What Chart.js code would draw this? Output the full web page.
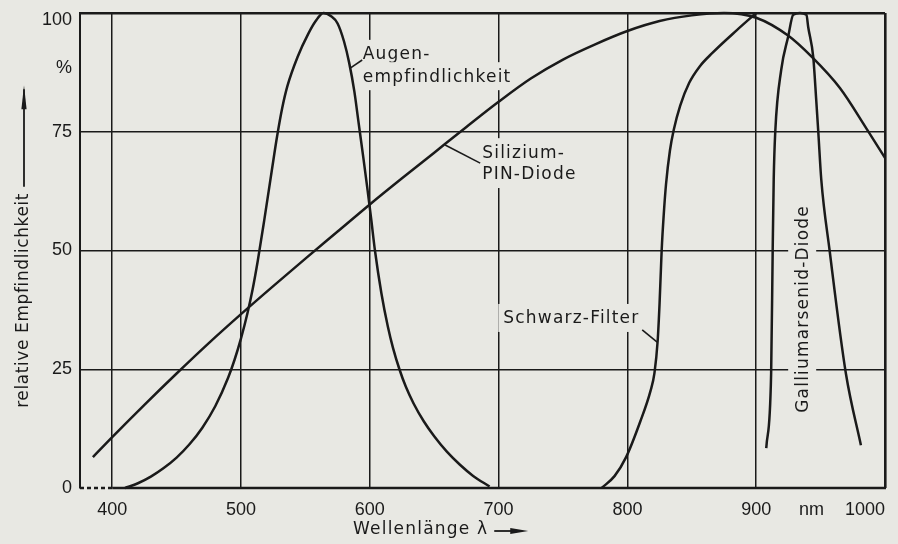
<!DOCTYPE html>
<html>
<head>
<meta charset="utf-8">
<script src="https://cdn.jsdelivr.net/npm/chart.js@4.4.1/dist/chart.umd.min.js"></script>
<style>
  html, body { margin: 0; padding: 0; background: #e8e8e3; }
  #wrap { width: 898px; height: 544px; }
  canvas { display: block; }
</style>
</head>
<body>
<div id="wrap"><canvas id="c" width="898" height="544"></canvas></div>
<script>
// ---- tick values / labels ----
const xTickValues = [375, 400, 500, 600, 700, 800, 900, 943, 1000];
const xTickLabels = ['', '400', '500', '600', '700', '800', '900', 'nm', '1000'];
const yTickValues = [0, 25, 50, 75, 88.5, 100];
const yTickLabels = ['0', '25', '50', '75', '%', '100'];

// ---- series (wavelength in nm, relative sensitivity in %) ----
const augeNm  = [410, 420, 430, 440, 450, 460, 470, 480, 490, 495, 500, 505, 509, 513, 518, 524, 528, 532, 536, 544, 552, 558, 564, 570, 575, 580, 584, 588, 591, 595, 598, 601, 604, 609, 614, 618, 623, 628, 634, 642, 650, 660, 670, 680, 693];
const augeRel = [0, 1, 2.4, 4.2, 6.4, 9.2, 12.7, 17.2, 23.2, 27, 31.5, 36.8, 41.8, 47.8, 56.3, 67, 74, 80, 84.6, 90.8, 95.5, 98.3, 100, 99.3, 97.8, 94, 89.5, 83.5, 77.5, 69.5, 63.3, 56.8, 50, 41, 34, 29.5, 25, 21.3, 17.8, 14, 10.9, 7.6, 4.9, 2.6, 0.3];

const siliziumNm  = [385, 400, 425, 450, 475, 500, 525, 550, 575, 600, 625, 650, 675, 700, 725, 750, 775, 800, 825, 850, 875, 900, 925, 943, 965, 986, 1000];
const siliziumRel = [6.5, 10.7, 17.5, 24.1, 30.5, 36.6, 42.5, 48.3, 54, 59.7, 65.2, 70.6, 76, 81.3, 86.2, 90.2, 93.4, 96.2, 98.3, 99.5, 100, 99, 95.2, 90.8, 84.2, 75.5, 69.5];

const filterNm  = [780, 790, 799, 810, 818, 821, 823.5, 825, 826.6, 828.2, 830, 833, 836, 841, 848, 856, 866, 885, 900];
const filterRel = [0, 2.5, 6.5, 14, 20.5, 24.2, 31, 39, 50, 57.5, 64, 71, 75.4, 80.5, 85.3, 88.7, 91.6, 96.4, 100];

const gaasNm  = [907.8, 911.6, 912.8, 913.6, 914.8, 919.4, 924.8, 928.7, 934, 939, 940.4, 944.3, 946.6, 948.2, 950.5, 957, 969.7, 981.3];
const gaasRel = [8.4, 24.2, 50, 65, 75, 88, 95, 99.6, 100, 99.6, 97, 90.7, 81.7, 75, 65, 50, 24, 9];

// ---- styling ----
const INK = '#1a1a1a';
const BG = '#e8e8e3';
const TXT_FONT = '17px "DejaVu Sans"';

function pts(xs, ys) { return xs.map((x, i) => ({ x: x, y: ys[i] })); }
function series(label, xs, ys) {
  return {
    label: label, data: pts(xs, ys), borderColor: INK, borderWidth: 2.5,
    pointRadius: 0, fill: false, cubicInterpolationMode: 'monotone', clip: false
  };
}

// curve captions (data coordinates)
const notes = [
  { t: 'Augen-', x: 594.5, y: 91.4, align: 'left' },
  { t: 'empfindlichkeit', x: 594.5, y: 86.7, align: 'left' },
  { t: 'Silizium-', x: 687.3, y: 70.7, align: 'left' },
  { t: 'PIN-Diode', x: 687.3, y: 66.1, align: 'left' },
  { t: 'Schwarz-Filter', x: 756.5, y: 35.8, align: 'center' },
  { t: 'Galliumarsenid-Diode', x: 935.7, y: 37.7, rot: true }
];
const leaders = [
  [584.8, 88.4, 594.1, 90.1],
  [658.5, 72.2, 685.7, 68.4],
  [811.5, 33.3, 823.1, 30.7]
];

const annot = {
  id: 'annot',
  beforeDatasetsDraw(chart) {
    const { ctx, scales: { x, y } } = chart;
    ctx.save();
    ctx.font = TXT_FONT;
    ctx.letterSpacing = '1.2px';
    ctx.textBaseline = 'middle';
    notes.forEach(n => {
      const px = x.getPixelForValue(n.x), py = y.getPixelForValue(n.y);
      const w = ctx.measureText(n.t).width;
      ctx.save();
      ctx.translate(px, py);
      if (n.rot) ctx.rotate(-Math.PI / 2);
      const x0 = (n.rot || n.align === 'center') ? -w / 2 : 0;
      ctx.fillStyle = BG;
      ctx.fillRect(x0 - 5, -14, w + 10, 28);
      ctx.fillStyle = INK;
      ctx.textAlign = 'left';
      ctx.fillText(n.t, x0, 1);
      ctx.restore();
    });
    ctx.strokeStyle = INK;
    ctx.lineWidth = 1.6;
    leaders.forEach(l => {
      ctx.beginPath();
      ctx.moveTo(x.getPixelForValue(l[0]), y.getPixelForValue(l[1]));
      ctx.lineTo(x.getPixelForValue(l[2]), y.getPixelForValue(l[3]));
      ctx.stroke();
    });
    // bottom axis line: dashed before 400 nm, solid after
    const yb = y.getPixelForValue(0);
    ctx.lineWidth = 2.4;
    ctx.setLineDash([4, 3]);
    ctx.beginPath();
    ctx.moveTo(x.getPixelForValue(375), yb);
    ctx.lineTo(x.getPixelForValue(400), yb);
    ctx.stroke();
    ctx.setLineDash([]);
    ctx.beginPath();
    ctx.moveTo(x.getPixelForValue(400), yb);
    ctx.lineTo(x.getPixelForValue(1000) + 1, yb);
    ctx.stroke();
    ctx.restore();
  },
  afterDraw(chart) {
    const { ctx, scales: { x, y }, chartArea } = chart;
    ctx.save();
    ctx.fillStyle = INK;
    ctx.strokeStyle = INK;
    ctx.font = TXT_FONT;
    ctx.textBaseline = 'middle';
    // y title
    ctx.save();
    ctx.letterSpacing = '0.6px';
    ctx.translate(24, y.getPixelForValue(39.5));
    ctx.rotate(-Math.PI / 2);
    ctx.textAlign = 'center';
    ctx.fillText('relative Empfindlichkeit', 0, 0);
    ctx.restore();
    const ax = 24, ayBot = y.getPixelForValue(63.4), ayTop = y.getPixelForValue(84.8);
    ctx.lineWidth = 1.8;
    ctx.beginPath(); ctx.moveTo(ax, ayBot); ctx.lineTo(ax, ayTop + 4); ctx.stroke();
    ctx.beginPath(); ctx.moveTo(ax, ayTop); ctx.lineTo(ax - 2.6, ayTop + 24); ctx.lineTo(ax + 2.6, ayTop + 24); ctx.closePath(); ctx.fill();
    // x title
    ctx.letterSpacing = '1.2px';
    ctx.textAlign = 'left';
    const tx = x.getPixelForValue(587), ty = chartArea.bottom + 42;
    const label = 'Wellenlänge λ';
    ctx.fillText(label, tx, ty);
    const tw = ctx.measureText(label).width;
    const lx0 = tx + tw + 6, lx1 = x.getPixelForValue(723);
    ctx.beginPath(); ctx.moveTo(lx0, ty + 1); ctx.lineTo(lx1 - 10, ty + 1); ctx.stroke();
    ctx.beginPath(); ctx.moveTo(lx1, ty + 1); ctx.lineTo(lx1 - 18, ty - 2); ctx.lineTo(lx1 - 18, ty + 4); ctx.closePath(); ctx.fill();
    ctx.restore();
  }
};

new Chart(document.getElementById('c').getContext('2d'), {
  type: 'line',
  data: {
    datasets: [
      series('Augenempfindlichkeit', augeNm, augeRel),
      series('Silizium-PIN-Diode', siliziumNm, siliziumRel),
      series('Schwarz-Filter', filterNm, filterRel),
      series('Galliumarsenid-Diode', gaasNm, gaasRel)
    ]
  },
  options: {
    responsive: false,
    animation: false,
    devicePixelRatio: 1,
    layout: { padding: { top: 13, right: 13, left: 0, bottom: 0 } },
    plugins: { legend: { display: false }, tooltip: { enabled: false } },
    scales: {
      x: {
        type: 'linear', min: 375, max: 1000,
        afterBuildTicks: s => { s.ticks = xTickValues.map(v => ({ value: v })); },
        afterFit: s => { s.height = 56; s.paddingLeft = 0; s.paddingRight = 0; },
        ticks: {
          autoSkip: false, maxRotation: 0, minRotation: 0, align: 'inner', padding: 11,
          color: INK, font: { family: '"Liberation Sans"', size: 18 },
          callback: (v, i) => xTickLabels[i]
        },
        grid: {
          drawTicks: false,
          color: c => (c.tick && (c.tick.value === 375 || c.tick.value === 943)) ? 'rgba(0,0,0,0)' : INK,
          lineWidth: c => (c.tick && c.tick.value === 1000) ? 2.6 : 1.5
        },
        border: { display: false }
      },
      y: {
        min: 0, max: 100,
        afterBuildTicks: s => { s.ticks = yTickValues.map(v => ({ value: v })); },
        afterFit: s => { s.width = 80; s.paddingTop = 0; s.paddingBottom = 0; },
        ticks: {
          autoSkip: false, padding: 8, color: INK,
          font: c => (c.tick && c.tick.value === 100)
            ? { family: '"Liberation Sans"', size: 18, lineHeight: 0.78 }
            : { family: '"Liberation Sans"', size: 18 },
          callback: (v, i) => (yTickValues[i] === 100 ? ['', '100'] : yTickLabels[i])
        },
        grid: {
          drawTicks: false,
          color: c => (c.tick && (c.tick.value === 0 || c.tick.value === 88.5)) ? 'rgba(0,0,0,0)' : INK,
          lineWidth: c => (c.tick && c.tick.value === 100) ? 2.6 : 1.5
        },
        border: { display: true, color: INK, width: 2 }
      }
    }
  },
  plugins: [annot]
});
</script>
</body>
</html>
